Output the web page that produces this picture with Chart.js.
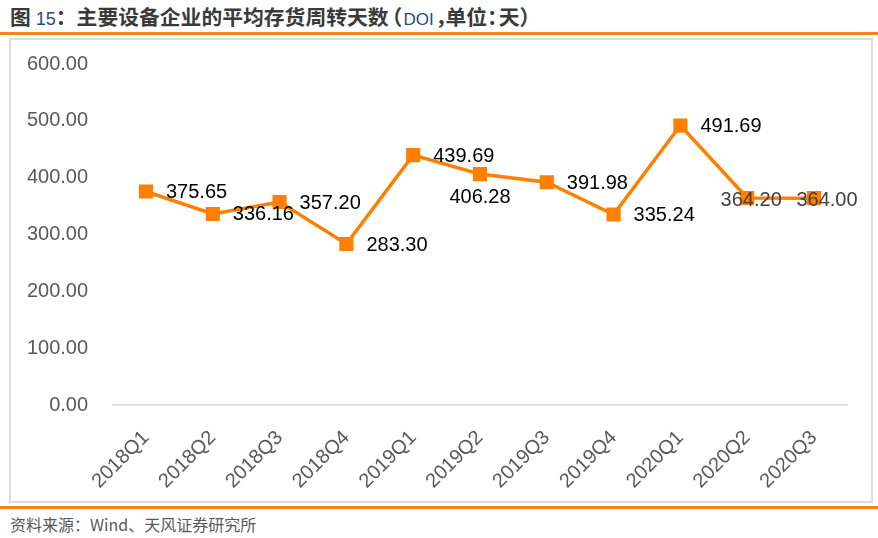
<!DOCTYPE html>
<html>
<head>
<meta charset="utf-8">
<script src="https://cdn.jsdelivr.net/npm/chart.js@4"></script>
<style>
  html, body { margin: 0; padding: 0; background: #fff; }
  #page { position: relative; width: 878px; height: 538px; overflow: hidden; background: #fff; }
  #title { position: absolute; left: 10px; top: 2px; font-family: "Noto Sans CJK SC", sans-serif; font-weight: bold; font-size: 20.8px; color: #3a3a3a; white-space: nowrap; line-height: 28px; }
  #title .n { color: #1f4e79; font-family: "Liberation Sans", Arial, sans-serif; font-weight: normal; font-size: 18px; }
  #title .d { color: #1f4e79; font-family: "Liberation Sans Narrow", "Liberation Sans", Arial, sans-serif; font-weight: normal; font-size: 17px; }
  #title .sp { display: inline-block; width: 5px; }
  #title .lp { margin-left: -7px; margin-right: 1px; }
  #title .cm { margin-left: 2px; margin-right: -11px; }
  #title .co { margin-left: 0px; margin-right: -9px; }
  #topline { position: absolute; left: 0; top: 32px; width: 878px; height: 3px; background: #f58220; }
  #box { position: absolute; left: 9px; top: 38px; width: 860px; height: 461px; border: 2px solid #dcdcdc; }
  #wrap { position: absolute; left: 11px; top: 40px; width: 860px; height: 461px; }
  #botline { position: absolute; left: 0; top: 506px; width: 878px; height: 3px; background: #f58220; }
  #foot { position: absolute; left: 10px; top: 512px; font-family: "Noto Sans CJK SC", sans-serif; font-size: 16px; color: #595959; white-space: nowrap; line-height: 24px; }
</style>
</head>
<body>
<div id="page">
  <div id="title">图<span class="sp"></span><span class="n">15</span>：主要设备企业的平均存货周转天数<span class="lp">（</span><span class="d">DOI</span><span class="cm">，</span>单位<span class="co">：</span>天）</div>
  <div id="topline"></div>
  <div id="box"></div>
  <div id="wrap"><canvas id="c" width="860" height="461"></canvas></div>
  <div id="botline"></div>
  <div id="foot">资料来源：Wind、天风证券研究所</div>
</div>
<script>
const categories = ["2018Q1","2018Q2","2018Q3","2018Q4","2019Q1","2019Q2","2019Q3","2019Q4","2020Q1","2020Q2","2020Q3"];
const doiValues = [375.65, 336.16, 357.20, 283.30, 439.69, 406.28, 391.98, 335.24, 491.69, 364.20, 364.00];
const yTicks = [0, 100, 200, 300, 400, 500, 600];

// label placement (style only)
const labelPlacement = ["right","right","right","right","right","below","right","right","right","center","center"];
const labelShiftX = [0,0,0,0,0,0,0,0,0,4,13];
const labelColor = ["#000","#000","#000","#000","#000","#000","#000","#000","#000","#404040","#404040"];

const labelPlugin = {
  id: 'valueLabels',
  afterDatasetsDraw(chart) {
    const ctx = chart.ctx;
    const meta = chart.getDatasetMeta(0);
    const data = chart.data.datasets[0].data;
    ctx.save();
    ctx.font = '20px "Liberation Sans", Arial, sans-serif';
    ctx.textBaseline = 'middle';
    meta.data.forEach((pt, i) => {
      const txt = Number(data[i]).toFixed(2);
      let x = pt.x, y = pt.y;
      const p = labelPlacement[i];
      if (p === 'right') { ctx.textAlign = 'left'; x += 20; y += 1; }
      else if (p === 'below') { ctx.textAlign = 'center'; y += 23; }
      else { ctx.textAlign = 'center'; x += labelShiftX[i]; y += 2; }
      ctx.fillStyle = labelColor[i];
      ctx.fillText(txt, x, y);
    });
    ctx.restore();
  }
};

new Chart(document.getElementById('c'), {
  type: 'line',
  data: {
    labels: categories,
    datasets: [{
      data: doiValues,
      borderColor: '#ff7f00',
      backgroundColor: '#ff7f00',
      borderWidth: 3.5,
      pointStyle: 'rect',
      pointRadius: 10,
      pointHoverRadius: 10,
      pointBorderWidth: 0,
      tension: 0,
      fill: false
    }]
  },
  options: {
    responsive: false,
    animation: false,
    devicePixelRatio: 1,
    layout: { padding: { left: 0, right: 23.6, top: 24, bottom: 0 } },
    plugins: { legend: { display: false }, tooltip: { enabled: false } },
    scales: {
      x: {
        type: 'category',
        offset: true,
        grid: { display: false, drawTicks: false },
        border: { display: true, color: '#d9d9d9', width: 1.5 },
        ticks: {
          minRotation: 45, maxRotation: 45, autoSkip: false,
          padding: 21,
          color: '#595959',
          font: { family: '"Liberation Sans", Arial, sans-serif', size: 20 }
        },
        afterFit(scale) { scale.height = 96; scale.paddingLeft = 0; scale.paddingRight = 0; }
      },
      y: {
        min: 0, max: 600,
        afterBuildTicks(scale) { scale.ticks = yTicks.map(v => ({ value: v })); },
        grid: { display: false, drawTicks: false },
        border: { display: false },
        ticks: {
          padding: 24.5,
          color: '#595959',
          font: { family: '"Liberation Sans", Arial, sans-serif', size: 20 },
          callback: v => Number(v).toFixed(2)
        },
        afterFit(scale) { scale.width = 101.6; scale.paddingTop = 0; scale.paddingBottom = 0; }
      }
    }
  },
  plugins: [labelPlugin]
});
</script>
</body>
</html>
